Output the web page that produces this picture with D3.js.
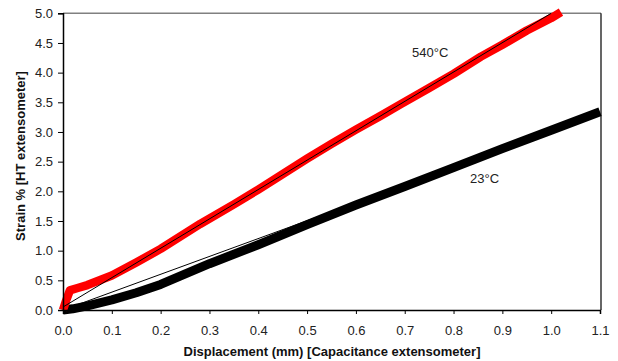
<!DOCTYPE html>
<html>
<head>
<meta charset="utf-8">
<script src="https://cdn.jsdelivr.net/npm/d3@7"></script>
<style>
  body { margin: 0; background: #fff; }
  svg { display: block; font-family: "Liberation Sans", Arial, sans-serif; }
  .tick text { font-size: 13px; fill: #222; }
  .axis-title { font-size: 13px; font-weight: bold; fill: #111; }
  .label { font-size: 13px; fill: #222; }
</style>
</head>
<body>
<svg width="618" height="361"></svg>
<script>
// tick values
const xTicks = [0, 0.1, 0.2, 0.3, 0.4, 0.5, 0.6, 0.7, 0.8, 0.9, 1.0, 1.1];
const yTicks = [0, 0.5, 1.0, 1.5, 2.0, 2.5, 3.0, 3.5, 4.0, 4.5, 5.0];

// 540°C measured curve
const hotDisp = [0, 0.006, 0.014, 0.03, 0.05, 0.1, 0.15, 0.2, 0.281, 0.35, 0.4, 0.45, 0.5, 0.55, 0.6, 0.65, 0.692, 0.75, 0.8, 0.856, 0.9, 0.95, 1.0, 1.02];
const hotStrain = [0, 0.15, 0.33, 0.37, 0.42, 0.58, 0.8, 1.03, 1.45, 1.78, 2.03, 2.29, 2.55, 2.8, 3.04, 3.27, 3.47, 3.74, 3.98, 4.27, 4.47, 4.71, 4.92, 5.02];
// 540°C linear fit
const hotFitDisp = [0, 1.0];
const hotFitStrain = [0.05, 5.0];

// 23°C measured curve
const roomDisp = [0, 0.02, 0.05, 0.1, 0.15, 0.2, 0.3, 0.4, 0.5, 0.6, 0.7, 0.8, 0.9, 1.0, 1.1];
const roomStrain = [0, 0.02, 0.07, 0.17, 0.29, 0.43, 0.78, 1.1, 1.44, 1.77, 2.08, 2.4, 2.72, 3.03, 3.34];
// 23°C linear fit
const roomFitDisp = [0, 1.1];
const roomFitStrain = [0, 3.31];

const svg = d3.select("svg");
const plotLeft = 63, plotRight = 600, plotTop = 13.3, plotBottom = 310;

const x = d3.scaleLinear().domain([0, 1.1]).range([plotLeft, plotRight]);
const y = d3.scaleLinear().domain([0, 5]).range([plotBottom, plotTop]);

const zip = (a, b) => a.map((v, i) => [v, b[i]]);
const line = d3.line().x(d => x(d[0])).y(d => y(d[1]));

// frame: top grey, right black
svg.append("line")
  .attr("x1", plotLeft).attr("x2", x(1.1) + 1)
  .attr("y1", plotTop).attr("y2", plotTop)
  .attr("stroke", "#808080").attr("stroke-width", 1.5);
svg.append("line")
  .attr("x1", x(1.1) + 1).attr("x2", x(1.1) + 1)
  .attr("y1", plotTop).attr("y2", plotBottom)
  .attr("stroke", "#000").attr("stroke-width", 1.2);

// curves
svg.append("path")
  .attr("d", line(zip(roomDisp, roomStrain)))
  .attr("fill", "none").attr("stroke", "#000")
  .attr("stroke-width", 9).attr("stroke-linejoin", "round");
svg.append("path")
  .attr("d", line(zip(roomFitDisp, roomFitStrain)))
  .attr("fill", "none").attr("stroke", "#000").attr("stroke-width", 1);

svg.append("path")
  .attr("d", line(zip(hotDisp, hotStrain)))
  .attr("fill", "none").attr("stroke", "#ff0000")
  .attr("stroke-width", 8.5).attr("stroke-linejoin", "round");
svg.append("path")
  .attr("d", line(zip(hotFitDisp, hotFitStrain)))
  .attr("fill", "none").attr("stroke", "#000").attr("stroke-width", 1);

// axes
const xAxis = svg.append("g")
  .attr("transform", `translate(0,${plotBottom})`)
  .call(d3.axisBottom(x).tickValues(xTicks).tickFormat(d3.format(".1f"))
    .tickSizeOuter(0).tickSize(4).tickPadding(12));
const yAxis = svg.append("g")
  .attr("transform", `translate(${plotLeft},0)`)
  .call(d3.axisLeft(y).tickValues(yTicks).tickFormat(d3.format(".1f"))
    .tickSizeOuter(0).tickSize(5).tickPadding(5));
[xAxis, yAxis].forEach(g => {
  g.select(".domain").attr("stroke", "#000").attr("stroke-width", 1.5);
  g.selectAll(".tick line").attr("stroke", "#000");
});
svg.selectAll("g").attr("font-family", null).attr("font-size", null);

// titles
svg.append("text").attr("class", "axis-title")
  .attr("x", 332).attr("y", 356).attr("text-anchor", "middle")
  .text("Displacement (mm) [Capacitance extensometer]");
svg.append("text").attr("class", "axis-title")
  .attr("transform", "translate(25,156) rotate(-90)")
  .attr("text-anchor", "middle")
  .text("Strain % [HT extensometer]");

// series labels
svg.append("text").attr("class", "label")
  .attr("x", 412).attr("y", 57).text("540°C");
svg.append("text").attr("class", "label")
  .attr("x", 470).attr("y", 183).text("23°C");
</script>
</body>
</html>
